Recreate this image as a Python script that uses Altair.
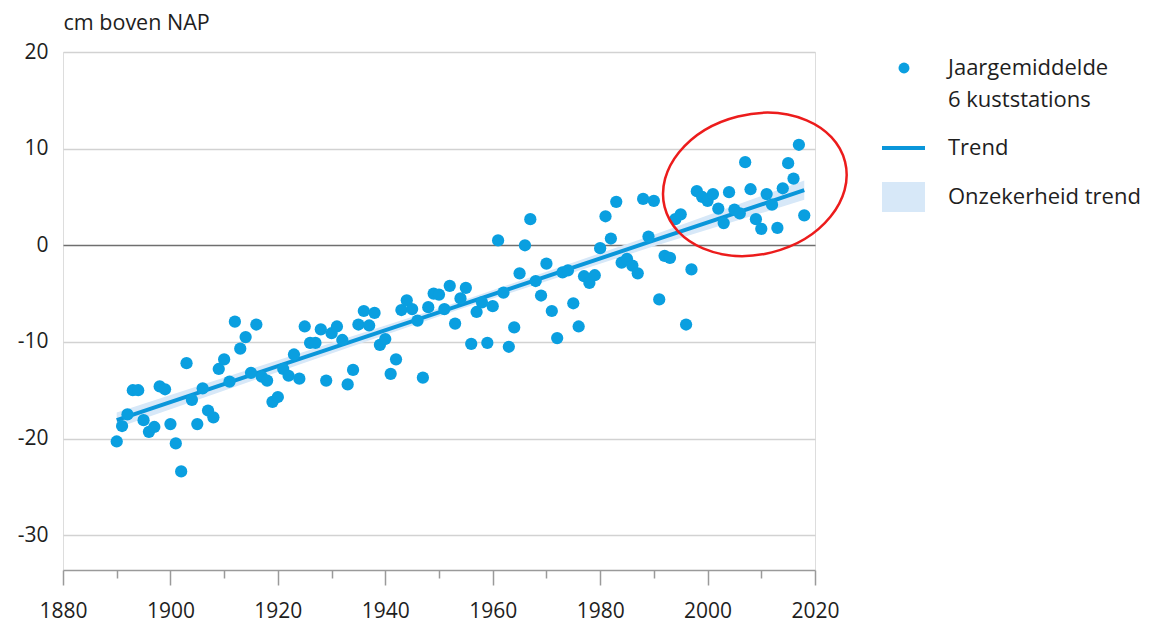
import altair as alt
import pandas as pd

# ---- data ----
years = list(range(1890, 2019))
sea_level = [
    -20.3, -18.7, -17.5, -15.0, -15.0, -18.1, -19.3, -18.8, -14.6, -14.9,   # 1890s
    -18.5, -20.5, -23.4, -12.2, -16.0, -18.5, -14.8, -17.1, -17.8, -12.8,   # 1900s
    -11.8, -14.1, -7.9, -10.7, -9.5, -13.2, -8.2, -13.6, -14.0, -16.2,      # 1910s
    -15.7, -12.8, -13.5, -11.3, -13.8, -8.4, -10.1, -10.1, -8.7, -14.0,     # 1920s
    -9.1, -8.4, -9.8, -14.4, -12.9, -8.2, -6.8, -8.3, -7.0, -10.3,          # 1930s
    -9.7, -13.3, -11.8, -6.7, -5.7, -6.6, -7.8, -13.7, -6.4, -5.0,          # 1940s
    -5.1, -6.6, -4.2, -8.1, -5.5, -4.4, -10.2, -6.9, -5.9, -10.1,           # 1950s
    -6.3, 0.5, -4.9, -10.5, -8.5, -2.9, 0.0, 2.7, -3.7, -5.2,               # 1960s
    -1.9, -6.8, -9.6, -2.8, -2.6, -6.0, -8.4, -3.2, -3.9, -3.1,             # 1970s
    -0.3, 3.0, 0.7, 4.5, -1.8, -1.4, -2.1, -2.9, 4.8, 0.9,                  # 1980s
    4.6, -5.6, -1.1, -1.3, 2.7, 3.2, -8.2, -2.5, 5.6, 5.0,                  # 1990s
    4.6, 5.3, 3.8, 2.3, 5.5, 3.7, 3.3, 8.6, 5.8, 2.7,                       # 2000s
    1.7, 5.3, 4.2, 1.8, 5.9, 8.5, 6.9, 10.4, 3.1,                           # 2010s
]
trend_years = [1890, 1920, 1954, 1990, 2018]
trend_mid = [-18.1, -12.5, -6.2, 0.5, 5.7]
trend_low = [-18.9, -13.1, -6.6, -0.1, 4.7]
trend_high = [-17.3, -11.9, -5.8, 1.1, 6.7]

# red highlight ellipse around the recent years (centre in data units)
highlight_year = [2008.8]
highlight_value = [6.3]

x_ticks = list(range(1880, 2021, 10))
y_ticks = [-30, -20, -10, 0, 10, 20]

legend_labels = ["Jaargemiddelde", "6 kuststations", "Trend", "Onzekerheid trend"]

FONT = "Open Sans"
DOT = "#0a9fe0"
LINE = "#0a96da"
BAND = "#d7e8f8"
TXT = "#1e1e1e"
RED = "#ec1c1c"

pts_df = pd.DataFrame({"jaar": years, "waarde": sea_level})
trend_df = pd.DataFrame({"jaar": trend_years, "mid": trend_mid, "lo": trend_low, "hi": trend_high})
hl_df = pd.DataFrame({"jaar": highlight_year, "waarde": highlight_value})
one = pd.DataFrame({"k": [0]})

xscale = alt.Scale(domain=[1880, 2020], nice=False, zero=False)
yscale = alt.Scale(domain=[-33.6, 20], nice=False, zero=False)

xaxis = alt.Axis(
    values=x_ticks,
    labelExpr="datum.value % 20 === 0 ? '' + datum.value : ''",
    grid=False,
    domainColor="#9a9a9a", domainWidth=1.5,
    tickColor="#9a9a9a", tickWidth=1.5,
    tickSize={"condition": {"test": "datum.value % 20 === 0", "value": 15}, "value": 8},
    labelFontSize=21, labelColor=TXT, labelFont=FONT, labelPadding=15,
    labelFlush=False, labelOverlap=False,
    title=None,
)
yaxis = alt.Axis(
    values=y_ticks,
    labelExpr="'' + datum.value",
    grid=True,
    gridColor={"condition": {"test": "datum.value === 0", "value": "#6f6f6f"}, "value": "#d2d2d2"},
    gridWidth=1.5,
    domain=False, ticks=False,
    labelFontSize=21, labelColor=TXT, labelFont=FONT, labelPadding=15,
    title="cm boven NAP", titleAngle=0, titleAlign="left", titleBaseline="middle",
    titleX=0, titleY=-29, titleFontSize=21.5, titleFontWeight="normal", titleColor=TXT, titleFont=FONT,
)

band = alt.Chart(trend_df).mark_area(color=BAND, opacity=1).encode(
    x=alt.X("jaar:Q", scale=xscale, axis=xaxis),
    y=alt.Y("lo:Q", scale=yscale, axis=yaxis),
    y2="hi:Q",
)
line = alt.Chart(trend_df).mark_line(color=LINE, strokeWidth=4).encode(
    x=alt.X("jaar:Q", scale=xscale),
    y=alt.Y("mid:Q", scale=yscale),
)
points = alt.Chart(pts_df).mark_circle(size=150, color=DOT, opacity=1).encode(
    x=alt.X("jaar:Q", scale=xscale),
    y=alt.Y("waarde:Q", scale=yscale),
)

ELLIPSE = "M-1,0 A1,0.753 0 1,0 1,0 A1,0.753 0 1,0 -1,0 Z"
highlight = alt.Chart(hl_df).mark_point(
    shape=ELLIPSE, size=34596, filled=False, stroke=RED, strokeWidth=2.5,
    opacity=1, angle=346,
).encode(
    x=alt.X("jaar:Q", scale=xscale),
    y=alt.Y("waarde:Q", scale=yscale),
)

# ---- hand-drawn legend to the right of the plot ----
leg_dot = alt.Chart(one).mark_circle(size=120, color=DOT, opacity=1).encode(
    x=alt.value(841), y=alt.value(16))
leg_line = alt.Chart(one).mark_rule(color=LINE, strokeWidth=4).encode(
    x=alt.value(819), x2=alt.value(862), y=alt.value(96))
leg_rect = alt.Chart(one).mark_rect(color=BAND).encode(
    x=alt.value(819), x2=alt.value(862), y=alt.value(130), y2=alt.value(160))

def leg_text(txt, y):
    return alt.Chart(one).mark_text(
        align="left", baseline="middle", fontSize=22, font=FONT, color=TXT
    ).encode(x=alt.value(885), y=alt.value(y), text=alt.value(txt))

legend = [
    leg_dot, leg_line, leg_rect,
    leg_text(legend_labels[0], 16),
    leg_text(legend_labels[1], 48),
    leg_text(legend_labels[2], 96),
    leg_text(legend_labels[3], 145),
]

chart = alt.layer(band, line, points, highlight, *legend).properties(
    width=752, height=518,
    autosize=alt.AutoSizeParams(type="none"),
    padding={"left": 55, "top": 44, "right": 335, "bottom": 54},
).configure_view(stroke=None).configure(font=FONT)

chart.save("out.html", embed_options={"renderer": "svg", "actions": False})
